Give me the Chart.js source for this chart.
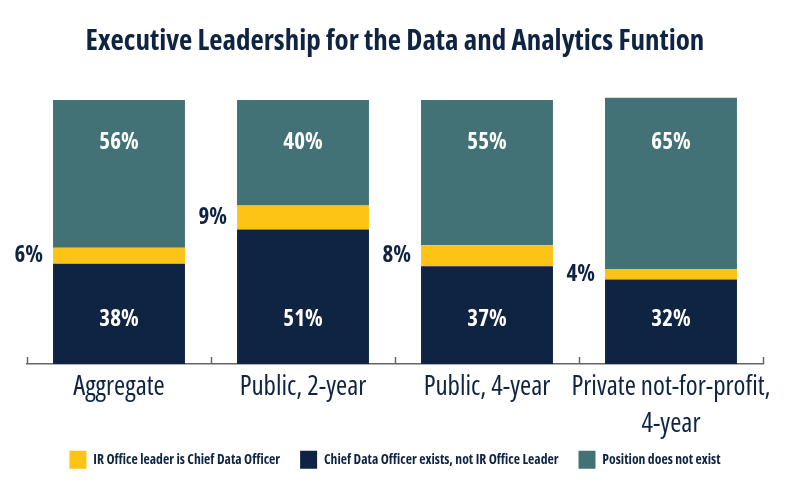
<!DOCTYPE html>
<html><head><meta charset="utf-8">
<script src="https://cdn.jsdelivr.net/npm/chart.js@4.4.1/dist/chart.umd.min.js"></script>
<style>html,body{margin:0;padding:0;background:#fff}#wrap{width:797px;height:489px;position:relative}</style>
</head><body><div id="wrap"><canvas id="c" width="797" height="489"></canvas></div>
<script>
const categories = ['Aggregate', 'Public, 2-year', 'Public, 4-year', ['Private not-for-profit,', '4-year']];
const irLeader = [6, 9, 8, 4];
const cdoNotIr = [38, 51, 37, 32];
const noPosition = [56, 40, 55, 65];
const seriesNames = ['IR Office leader is Chief Data Officer', 'Chief Data Officer exists, not IR Office Leader', 'Position does not exist'];
const titleText = 'Executive Leadership for the Data and Analytics Funtion';

const NAVY = '#0f2343', YELLOW = '#fec415', TEAL = '#437276';
const FAM = '"Open Sans", "DejaVu Sans Condensed", sans-serif';

const labelPlugin = {
  id: 'valueLabels',
  afterDatasetsDraw(chart) {
    const ctx = chart.ctx, ys = chart.scales.y;
    const mNavy = chart.getDatasetMeta(0), mYel = chart.getDatasetMeta(1);
    ctx.save();
    ctx.textBaseline = 'middle';
    ctx.font = 'bold condensed 23px ' + FAM;
    for (let i = 0; i < categories.length; i++) {
      const b = mNavy.data[i];
      ctx.textAlign = 'center';
      ctx.fillStyle = '#ffffff';
      ctx.fillText(cdoNotIr[i] + '%', b.x, ys.getPixelForValue(17));
      ctx.fillText(noPosition[i] + '%', b.x, ys.getPixelForValue(84));
      const y = mYel.data[i];
      ctx.textAlign = 'right';
      ctx.fillStyle = NAVY;
      ctx.fillText(irLeader[i] + '%', y.x - y.width / 2 - 10, (y.y + y.base) / 2);
    }
    ctx.restore();
  }
};
const tickPlugin = {
  id: 'upTicks',
  afterLayout(chart) {
    // let the two-line category labels extend below the (shortened) axis box
    chart.scales.x.bottom = chart.height;
  },
  afterDraw(chart) {
    const ctx = chart.ctx, xs = chart.scales.x;
    ctx.save();
    ctx.strokeStyle = '#666'; ctx.lineWidth = 1.5;
    for (let i = 0; i <= categories.length; i++) {
      const x = Math.round(xs.getPixelForValue(i - 0.5)) + 0.5;
      ctx.beginPath(); ctx.moveTo(x, xs.top); ctx.lineTo(x, xs.top - 7); ctx.stroke();
    }
    ctx.restore();
  }
};
const legendOrder = [1, 0, 2];
new Chart(document.getElementById('c'), {
  type: 'bar',
  data: {
    labels: categories,
    datasets: [
      { label: seriesNames[1], data: cdoNotIr, backgroundColor: NAVY },
      { label: seriesNames[0], data: irLeader, backgroundColor: YELLOW },
      { label: seriesNames[2], data: noPosition, backgroundColor: TEAL }
    ]
  },
  options: {
    responsive: false, animation: false,
    layout: { padding: { left: 27, right: 34, top: 0, bottom: 10.3 } },
    datasets: { bar: { categoryPercentage: 1, barPercentage: 0.717 } },
    scales: {
      x: { stacked: true,
        afterFit: (s) => { s.height = 66.7; },
        grid: { display: true, drawOnChartArea: false, drawTicks: false },
        border: { display: true, color: '#666', width: 1.5 },
        ticks: { padding: 5.3, color: NAVY, maxRotation: 0, autoSkip: false, font: { family: FAM, size: 27, weight: 'normal condensed', lineHeight: 1.35 } } },
      y: { stacked: true, display: false, min: 0, max: 101 }
    },
    plugins: {
      title: { display: true, text: titleText, color: NAVY, font: { family: FAM, size: 29, weight: 'bold condensed' }, padding: { top: 24.3, bottom: 38.3 } },
      legend: { position: 'bottom', labels: { sort: (a, b) => legendOrder.indexOf(a.datasetIndex) - legendOrder.indexOf(b.datasetIndex), boxWidth: 17, boxHeight: 18, color: NAVY, padding: 20, font: { family: FAM, size: 13.7, weight: 'bold condensed' } } },
      tooltip: { enabled: false }
    }
  },
  plugins: [labelPlugin, tickPlugin]
});
</script></body></html>
